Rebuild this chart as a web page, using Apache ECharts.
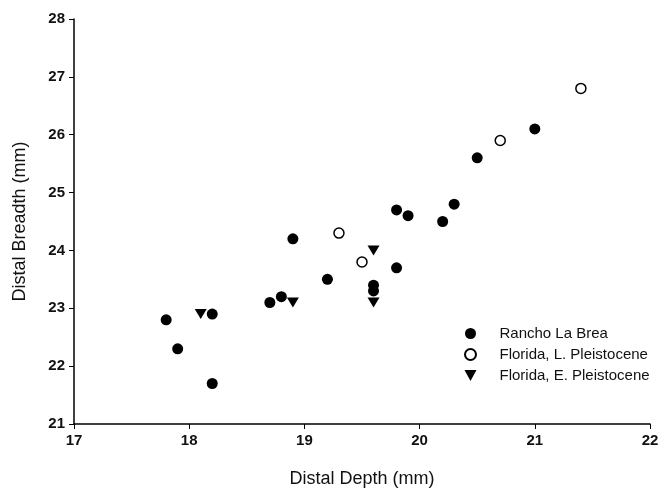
<!DOCTYPE html>
<html>
<head>
<meta charset="utf-8">
<script src="https://cdn.jsdelivr.net/npm/echarts@6/dist/echarts.min.js"></script>
<style>
  html, body { margin: 0; padding: 0; background: #fff; }
  #chart { width: 660px; height: 488px; }
</style>
</head>
<body>
<div id="chart"></div>
<script>
// distal depth (x) / distal breadth (y), mm
var rancho = [
  [17.8, 22.8], [17.9, 22.3], [18.2, 22.9], [18.2, 21.7],
  [18.7, 23.1], [18.8, 23.2], [18.9, 24.2], [19.2, 23.5],
  [19.6, 23.4], [19.6, 23.3], [19.8, 23.7], [19.8, 24.7],
  [19.9, 24.6], [20.2, 24.5], [20.3, 24.8], [20.5, 25.6],
  [21.0, 26.1]
];
var floridaLate = [
  [19.3, 24.3], [19.5, 23.8], [20.7, 25.9], [21.4, 26.8]
];
var floridaEarly = [
  [18.1, 22.9], [18.9, 23.1], [19.6, 24.0], [19.6, 23.1]
];
var seriesNames = ['Rancho La Brea', 'Florida, L. Pleistocene', 'Florida, E. Pleistocene'];

var font = '"Liberation Sans", Arial, sans-serif';
var downTriangle = 'path://M0,0L12,0L6,11Z';

var myChart = echarts.init(document.getElementById('chart'));

var option = {
  backgroundColor: '#fff',
  animation: false,
  grid: { left: 74, right: 10, top: 19, bottom: 64, outerBoundsMode: 'none', containLabel: false },
  legend: {
    orient: 'vertical',
    left: 459,
    top: 321,
    itemWidth: 48,
    itemHeight: 11,
    itemGap: 6,
    symbolKeepAspect: true,
    textStyle: { fontFamily: font, fontSize: 15, color: '#111' },
    data: [
      { name: seriesNames[0] },
      { name: seriesNames[1] },
      { name: seriesNames[2], icon: downTriangle }
    ]
  },
  xAxis: {
    type: 'value',
    min: 17, max: 22, interval: 1,
    name: 'Distal Depth (mm)',
    nameLocation: 'middle',
    nameGap: 46,
    nameTextStyle: { fontFamily: font, fontSize: 18, color: '#111' },
    axisLine: { lineStyle: { color: '#000', width: 1.5 } },
    axisTick: { show: true, length: 5, inside: false, lineStyle: { color: '#000' } },
    axisLabel: { fontFamily: font, fontSize: 15, fontWeight: 'bold', color: '#111', margin: 9 },
    splitLine: { show: false }
  },
  yAxis: {
    type: 'value',
    min: 21, max: 28, interval: 1,
    name: 'Distal Breadth (mm)',
    nameLocation: 'middle',
    nameGap: 45,
    nameTextStyle: { fontFamily: font, fontSize: 18, color: '#111' },
    axisLine: { show: true, lineStyle: { color: '#000', width: 1.5 } },
    axisTick: { show: true, length: 5, inside: false, lineStyle: { color: '#000' } },
    axisLabel: { fontFamily: font, fontSize: 15, fontWeight: 'bold', color: '#111', margin: 9 },
    splitLine: { show: false }
  },
  series: [
    {
      name: seriesNames[0],
      type: 'scatter',
      symbol: 'circle',
      symbolSize: 11,
      itemStyle: { color: '#000', opacity: 1 },
      data: rancho
    },
    {
      name: seriesNames[1],
      type: 'scatter',
      symbol: 'circle',
      symbolSize: 10,
      itemStyle: { color: '#fff', borderColor: '#000', borderWidth: 1.5, opacity: 1 },
      data: floridaLate
    },
    {
      name: seriesNames[2],
      type: 'scatter',
      symbol: downTriangle,
      symbolSize: [12, 10],
      itemStyle: { color: '#000', opacity: 1 },
      data: floridaEarly
    }
  ]
};

myChart.setOption(option);
</script>
</body>
</html>
